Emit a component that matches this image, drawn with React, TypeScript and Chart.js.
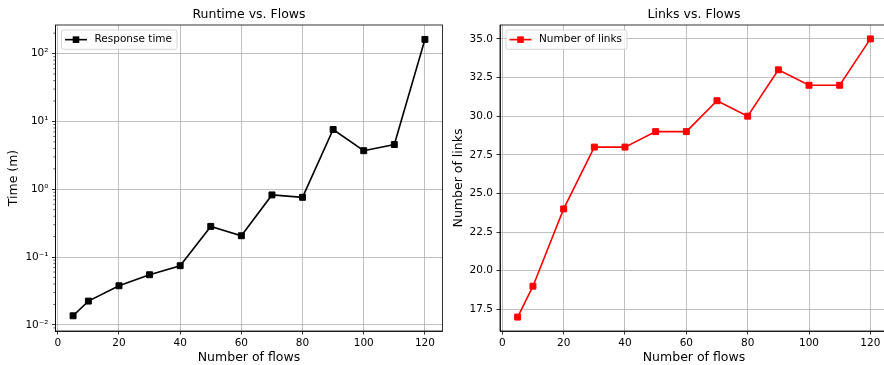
import React, { useEffect, useRef } from "react";
import { Chart, registerables } from "chart.js";

Chart.register(...registerables);

// ---- data ----
const flows = [5, 10, 20, 30, 40, 50, 60, 70, 80, 90, 100, 110, 120];
const responseTime = [0.0136, 0.0224, 0.0377, 0.0548, 0.0745, 0.283, 0.206, 0.824, 0.76, 7.6, 3.7, 4.56, 162];
const numberOfLinks = [17, 19, 24, 28, 28, 29, 29, 31, 30, 33, 32, 32, 35];
const xTicks = [0, 20, 40, 60, 80, 100, 120];
const timeTicks = [0.01, 0.1, 1, 10, 100];
const timeTickLabels = ["10⁻²", "10⁻¹", "10⁰", "10¹", "10²"];
const linkTicks = [17.5, 20, 22.5, 25, 27.5, 30, 32.5, 35];
const linkTickLabels = ["17.5", "20.0", "22.5", "25.0", "27.5", "30.0", "32.5", "35.0"];

const FONT = "'DejaVu Sans', 'Liberation Sans', sans-serif";
const TICK_SIZE = 10.5;
const LABEL_SIZE = 12.5;

type Extra = {
  title: string;
  legendLabel: string;
  color: string;
  minorLog?: boolean;
};

const decorPlugin = {
  id: "decor",
  afterDraw(chart: any) {
    const ex: Extra = chart.options.plugins.decor;
    const { ctx, chartArea } = chart;
    const { left, right, top, bottom } = chartArea;
    ctx.save();
    // frame
    ctx.strokeStyle = "#000";
    ctx.lineWidth = 0.8;
    ctx.strokeRect(left, top, right - left, bottom - top);
    // minor log ticks
    if (ex.minorLog) {
      const ys = chart.scales.y;
      ctx.lineWidth = 0.6;
      for (let d = -3; d <= 3; d++) {
        for (let m = 2; m <= 9; m++) {
          const v = m * Math.pow(10, d);
          if (v < ys.min || v > ys.max) continue;
          const py = ys.getPixelForValue(v);
          ctx.beginPath();
          ctx.moveTo(left - 2.2, py);
          ctx.lineTo(left, py);
          ctx.stroke();
        }
      }
    }
    // title
    ctx.fillStyle = "#000";
    ctx.font = `${LABEL_SIZE}px ${FONT}`;
    ctx.textAlign = "center";
    ctx.textBaseline = "middle";
    ctx.fillText(ex.title, (left + right) / 2, 15);
    // legend
    ctx.font = `${TICK_SIZE}px ${FONT}`;
    const textW = ctx.measureText(ex.legendLabel).width;
    const bx = left + 6;
    const by = top + 5;
    const bw = 33 + textW + 5;
    const bh = 19.3;
    ctx.beginPath();
    const r = 2;
    ctx.moveTo(bx + r, by);
    ctx.lineTo(bx + bw - r, by);
    ctx.quadraticCurveTo(bx + bw, by, bx + bw, by + r);
    ctx.lineTo(bx + bw, by + bh - r);
    ctx.quadraticCurveTo(bx + bw, by + bh, bx + bw - r, by + bh);
    ctx.lineTo(bx + r, by + bh);
    ctx.quadraticCurveTo(bx, by + bh, bx, by + bh - r);
    ctx.lineTo(bx, by + r);
    ctx.quadraticCurveTo(bx, by, bx + r, by);
    ctx.closePath();
    ctx.fillStyle = "rgba(255,255,255,0.8)";
    ctx.fill();
    ctx.strokeStyle = "#cccccc";
    ctx.lineWidth = 0.8;
    ctx.stroke();
    const cy = by + bh / 2;
    ctx.strokeStyle = ex.color;
    ctx.lineWidth = 1.6;
    ctx.beginPath();
    ctx.moveTo(bx + 3.5, cy);
    ctx.lineTo(bx + 25.5, cy);
    ctx.stroke();
    ctx.fillStyle = ex.color;
    ctx.fillRect(bx + 14.5 - 3.3, cy - 3.3, 6.6, 6.6);
    ctx.fillStyle = "#000";
    ctx.textAlign = "left";
    ctx.fillText(ex.legendLabel, bx + 33, cy);
    ctx.restore();
  },
};

function makeChart(
  canvas: HTMLCanvasElement,
  values: number[],
  extra: Extra,
  yOpts: any,
  yTicks: number[],
  yLabels: string[],
  yTitle: string,
  yTitlePad: number,
  yWidth: number,
  padRight: number
) {
  return new Chart(canvas, {
    type: "line",
    data: {
      datasets: [
        {
          label: extra.legendLabel,
          data: flows.map((f, i) => ({ x: f, y: values[i] })),
          borderColor: extra.color,
          backgroundColor: extra.color,
          borderWidth: 1.6,
          pointStyle: "rect",
          pointRadius: 4.2,
          pointBorderWidth: 1,
          pointBorderColor: extra.color,
          pointBackgroundColor: extra.color,
          tension: 0,
          clip: false as any,
        },
      ],
    },
    options: {
      responsive: false,
      animation: false,
      devicePixelRatio: 1,
      layout: { padding: { top: 25, right: padRight, left: 0, bottom: 0 } },
      plugins: {
        legend: { display: false },
        title: { display: false },
        tooltip: { enabled: false },
        decor: extra,
      } as any,
      scales: {
        x: {
          type: "linear",
          min: -0.75,
          max: 125.75,
          afterBuildTicks: (s: any) => {
            s.ticks = xTicks.map((v) => ({ value: v }));
          },
          afterFit: (s: any) => {
            s.height = 34;
          },
          ticks: {
            font: { family: FONT, size: TICK_SIZE },
            color: "#000",
            padding: 2,
            maxRotation: 0,
            autoSkip: false,
            callback: (v: any) => String(v),
          },
          grid: {
            color: "#b0b0b0",
            lineWidth: 0.8,
            tickColor: "#000",
            tickLength: 3.5,
            tickWidth: 0.8,
          },
          border: { display: true, color: "#000", width: 0.8 },
          title: {
            display: true,
            text: "Number of flows",
            color: "#000",
            font: { family: FONT, size: LABEL_SIZE },
            padding: { top: 0, bottom: 0 },
          },
        },
        y: {
          ...yOpts,
          afterBuildTicks: (s: any) => {
            s.ticks = yTicks.map((v) => ({ value: v }));
          },
          afterFit: (s: any) => {
            s.width = yWidth;
          },
          ticks: {
            font: { family: FONT, size: TICK_SIZE },
            color: "#000",
            padding: 3.5,
            autoSkip: false,
            callback: (v: any) => {
              const i = yTicks.findIndex((t) => Math.abs(t - v) < 1e-9);
              return i >= 0 ? yLabels[i] : "";
            },
          },
          grid: {
            color: "#b0b0b0",
            lineWidth: 0.8,
            tickColor: "#000",
            tickLength: 3.5,
            tickWidth: 0.8,
          },
          border: { display: true, color: "#000", width: 0.8 },
          title: {
            display: true,
            text: yTitle,
            color: "#000",
            font: { family: FONT, size: LABEL_SIZE },
            padding: { top: yTitlePad, bottom: 0 },
          },
        },
      },
    },
    plugins: [decorPlugin],
  } as any);
}

export default function App() {
  const leftRef = useRef<HTMLCanvasElement>(null);
  const rightRef = useRef<HTMLCanvasElement>(null);

  useEffect(() => {
    const c1 = makeChart(
      leftRef.current!,
      responseTime,
      { title: "Runtime vs. Flows", legendLabel: "Response time", color: "#000000", minorLog: true },
      { type: "logarithmic", min: Math.pow(10, -2.091), max: Math.pow(10, 2.422) },
      timeTicks,
      timeTickLabels,
      "Time (m)",
      6,
      55.5,
      7.5
    );
    const c2 = makeChart(
      rightRef.current!,
      numberOfLinks,
      { title: "Links vs. Flows", legendLabel: "Number of links", color: "#ff0000" },
      { type: "linear", min: 16.1, max: 35.9 },
      linkTicks,
      linkTickLabels,
      "Number of links",
      0.8,
      50,
      12
    );
    return () => {
      c1.destroy();
      c2.destroy();
    };
  }, []);

  return (
    <div
      style={{
        position: "fixed",
        left: 0,
        top: 0,
        width: 884,
        height: 365,
        overflow: "hidden",
        background: "#fff",
      }}
    >
      <canvas
        ref={leftRef}
        width={450}
        height={365}
        style={{ position: "absolute", left: 0, top: 0, width: 450, height: 365 }}
      />
      <canvas
        ref={rightRef}
        width={450}
        height={365}
        style={{ position: "absolute", left: 450, top: 0, width: 450, height: 365 }}
      />
    </div>
  );
}
